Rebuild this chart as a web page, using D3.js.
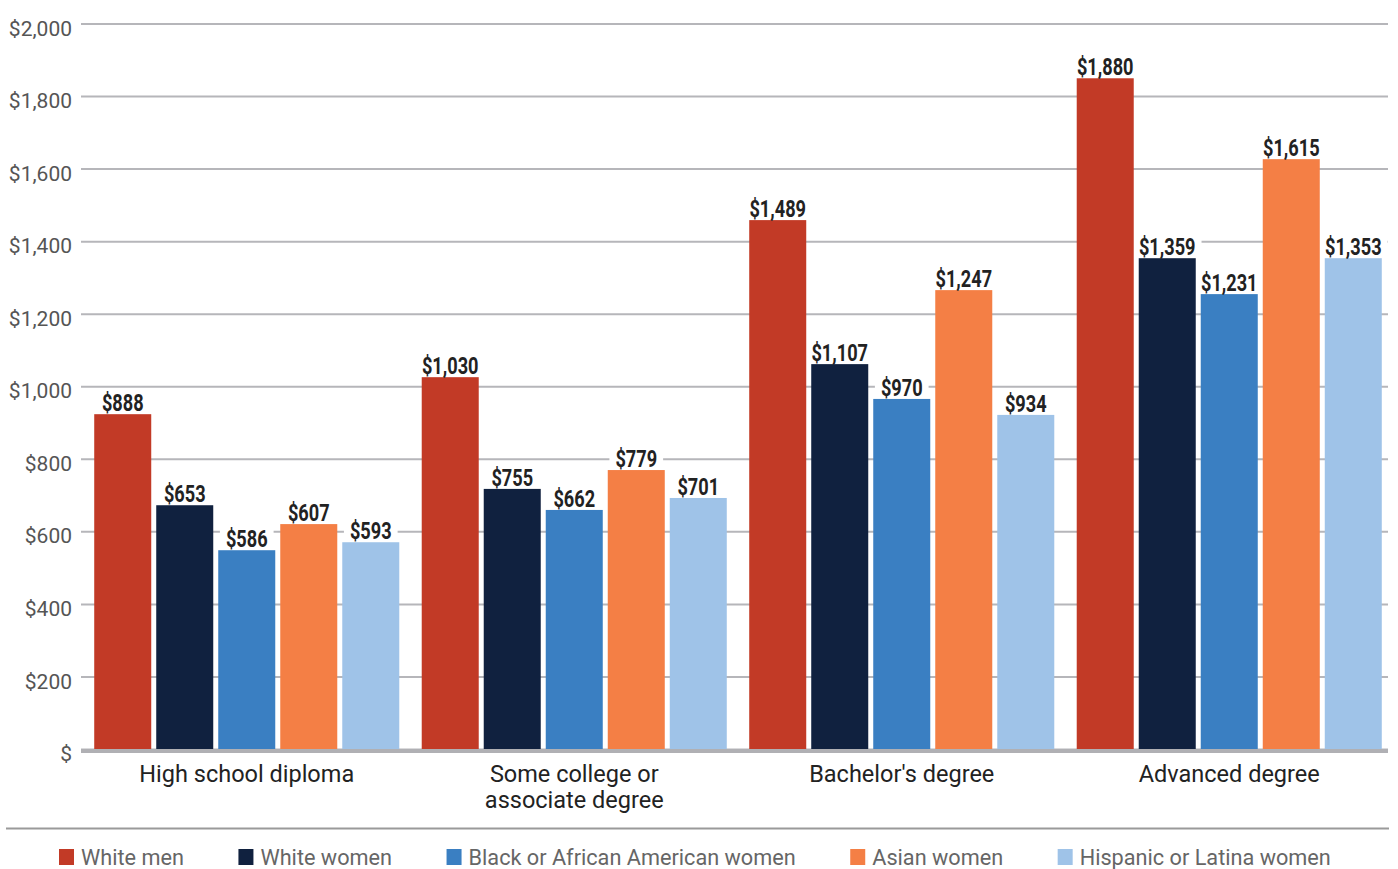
<!DOCTYPE html>
<html>
<head>
<meta charset="utf-8">
<script src="https://cdn.jsdelivr.net/npm/d3@7"></script>
<style>
    body { margin: 0; background: #fff; }
    text { font-family: Roboto, "Noto Sans", sans-serif; }
</style>
</head>
<body>
<div id="wrapper"></div>
<script>
// data
const categories = ["High school diploma", "Some college or\nassociate degree", "Bachelor's degree", "Advanced degree"]
const series = ["White men", "White women", "Black or African American women", "Asian women", "Hispanic or Latina women"]
const colors = ["#c23a26", "#10213f", "#3a7fc2", "#f47f45", "#9fc3e8"]

// bar heights as drawn in the picture (one array per series, in category order)
const whiteMen = [923, 1025, 1458, 1849]
const whiteWomen = [672, 717, 1061, 1353]
const blackWomen = [548, 659, 965, 1254]
const asianWomen = [620, 769, 1265, 1626]
const hispanicWomen = [570, 692, 921, 1353]

// value labels printed above the bars
const whiteMenLabels = [888, 1030, 1489, 1880]
const whiteWomenLabels = [653, 755, 1107, 1359]
const blackWomenLabels = [586, 662, 970, 1231]
const asianWomenLabels = [607, 779, 1247, 1615]
const hispanicWomenLabels = [593, 701, 934, 1353]

const yTicks = [0, 200, 400, 600, 800, 1000, 1200, 1400, 1600, 1800, 2000]

const barValues = [whiteMen, whiteWomen, blackWomen, asianWomen, hispanicWomen]
const labelValues = [whiteMenLabels, whiteWomenLabels, blackWomenLabels, asianWomenLabels, hispanicWomenLabels]

const dataset = []
categories.forEach((c, ci) => {
    series.forEach((s, si) => {
        dataset.push({
            category: c,
            series: s,
            value: barValues[si][ci],
            label: labelValues[si][ci]
        })
    })
})

// dimensions
const width = 1398
const height = 869
const gridLeft = 81
const gridRight = 1388
const labelSquash = 0.79

const wrapper = d3.select("#wrapper")
    .append("svg")
    .attr("width", width)
    .attr("height", height)

// scales
const yScale = d3.scaleLinear()
    .domain([0, 2000])
    .range([749, 23.5])

const x0Scale = d3.scaleBand()
    .domain(categories)
    .range([83, 1393])

const x1Scale = d3.scaleBand()
    .domain(series)
    .range([0, x0Scale.bandwidth()])
    .paddingInner(0.0806)
    .paddingOuter(0.181)

const colorScale = d3.scaleOrdinal()
    .domain(series)
    .range(colors)

const labelX = d => x0Scale(d.category) + x1Scale(d.series) + x1Scale.bandwidth() / 2
const labelY = d => yScale(d.value) - 3

// gridlines + y labels
const yAxisGenerator = d3.axisLeft(yScale)
    .tickValues(yTicks)
    .tickSize(-(gridRight - gridLeft))
    .tickPadding(9)
    .tickFormat(d => d === 0 ? "$" : "$" + d3.format(",")(d))

const yAxis = wrapper.append("g")
    .attr("transform", `translate(${gridLeft},0)`)
    .call(yAxisGenerator)

yAxis.select(".domain").remove()
yAxis.selectAll(".tick line")
    .attr("stroke", "#b6b6ba")
    .attr("stroke-width", 2)
    .attr("x1", 0)
yAxis.selectAll(".tick text")
    .attr("x", -9)
    .attr("dy", "0.55em")
    .attr("fill", "#555")
    .style("font-size", "21px")
    .style("font-family", "Roboto")

// white label backgrounds: over the grid, under the bars
const labelBacks = wrapper.append("g")
    .selectAll("rect")
    .data(dataset)
    .enter().append("rect")
    .attr("fill", "#fff")

// bars
wrapper.append("g")
    .selectAll("rect")
    .data(dataset)
    .enter().append("rect")
    .attr("x", d => x0Scale(d.category) + x1Scale(d.series))
    .attr("y", d => yScale(d.value))
    .attr("width", x1Scale.bandwidth())
    .attr("height", d => yScale(0) - yScale(d.value))
    .attr("fill", d => colorScale(d.series))

// baseline
wrapper.append("line")
    .attr("x1", gridLeft)
    .attr("x2", gridRight)
    .attr("y1", yScale(0) + 2)
    .attr("y2", yScale(0) + 2)
    .attr("stroke", "#b0b0b4")
    .attr("stroke-width", 4)

// value labels
const labels = wrapper.append("g")
    .selectAll("text")
    .data(dataset)
    .enter().append("text")
    .attr("text-anchor", "middle")
    .attr("transform", d => `translate(${labelX(d)},${labelY(d)}) scale(${labelSquash},1)`)
    .attr("fill", "#222")
    .style("font-size", "23px")
    .style("font-weight", "bold")
    .text(d => "$" + d3.format(",")(d.label))

const labelWidths = labels.nodes().map(n => n.getComputedTextLength() * labelSquash)
labelBacks
    .attr("x", (d, i) => labelX(d) - labelWidths[i] / 2 - 6)
    .attr("y", d => labelY(d) - 18)
    .attr("width", (d, i) => labelWidths[i] + 12)
    .attr("height", 19)

// category labels
const catLabels = wrapper.append("g")
    .selectAll("text")
    .data(categories)
    .enter().append("text")
    .attr("x", d => x0Scale(d) + x0Scale.bandwidth() / 2)
    .attr("y", 782)
    .attr("text-anchor", "middle")
    .attr("fill", "#222")
    .style("font-size", "23.5px")

catLabels.selectAll("tspan")
    .data(d => d.split("\n"))
    .enter().append("tspan")
    .attr("x", function() { return d3.select(this.parentNode).attr("x") })
    .attr("dy", (d, i) => i === 0 ? 0 : 26)
    .text(d => d)

// divider
wrapper.append("line")
    .attr("x1", 6)
    .attr("x2", 1389)
    .attr("y1", 828.5)
    .attr("y2", 828.5)
    .attr("stroke", "#9a9a9a")
    .attr("stroke-width", 2)

// legend
const legend = wrapper.append("g")
    .attr("transform", "translate(59,0)")
const items = legend.selectAll("g")
    .data(series)
    .enter().append("g")

items.append("rect")
    .attr("y", 849)
    .attr("width", 15)
    .attr("height", 16)
    .attr("fill", d => colorScale(d))

items.append("text")
    .attr("x", 22)
    .attr("y", 865)
    .attr("fill", "#666")
    .style("font-size", "21.7px")
    .text(d => d)

const legendGap = 54.5
let legendX = 0
items.each(function() {
    const item = d3.select(this)
    item.attr("transform", `translate(${legendX},0)`)
    legendX += 22 + item.select("text").node().getComputedTextLength() + legendGap
})
</script>
</body>
</html>
